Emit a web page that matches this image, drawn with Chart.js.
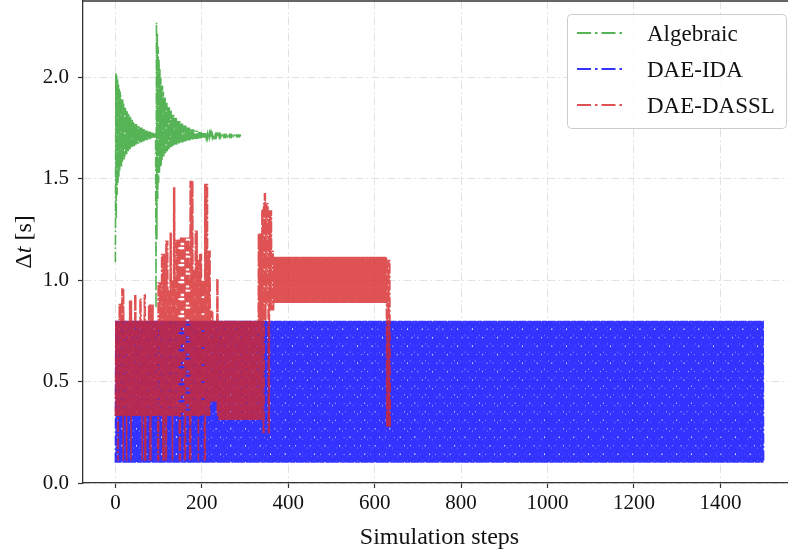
<!DOCTYPE html>
<html>
<head>
<meta charset="utf-8">
<script src="https://cdn.jsdelivr.net/npm/chart.js@4.4.0/dist/chart.umd.min.js"></script>
<style>
  html, body { margin: 0; padding: 0; background: #fff; overflow: hidden; width: 788px; height: 552px; }
  #wrap { width: 800px; height: 552px; }
</style>
</head>
<body>
<div id="wrap"><canvas id="myChart" width="800" height="552"></canvas></div>
<script>
const seriesLabels = ['Algebraic', 'DAE-IDA', 'DAE-DASSL'];
const xTickValues = [0, 200, 400, 600, 800, 1000, 1200, 1400];
const yTickValues = [0.0, 0.5, 1.0, 1.5, 2.0];

// Each series jumps between a low and a high value every step.
// A span starts at the given step and lasts until the next start; the last start is the end step.
const algStart = [0, 2, 4, 6, 8, 10, 12, 15, 18, 21, 24, 28, 32, 36, 40, 45, 50, 56, 62, 68, 75, 82, 88,
  94, 96, 98, 100, 102, 104, 107, 110, 113, 117, 121, 126, 131, 137, 143, 150, 157, 165, 173, 182, 191, 200, 210, 225, 245, 270, 293];
const algLow = [1.09, 1.30, 1.42, 1.48, 1.51, 1.54, 1.56, 1.58, 1.595, 1.61, 1.62, 1.635, 1.645, 1.655, 1.66, 1.668, 1.673, 1.678, 1.684, 1.69, 1.695, 1.70, 1.702,
  0.86, 1.20, 1.40, 1.48, 1.53, 1.56, 1.59, 1.61, 1.625, 1.635, 1.645, 1.655, 1.662, 1.668, 1.674, 1.679, 1.684, 1.688, 1.692, 1.696, 1.699, 1.702, 1.705, 1.707, 1.708, 1.709];
const algHigh = [2.02, 2.01, 1.99, 1.97, 1.95, 1.93, 1.91, 1.89, 1.87, 1.85, 1.835, 1.82, 1.805, 1.79, 1.78, 1.77, 1.76, 1.752, 1.745, 1.738, 1.732, 1.727, 1.724,
  2.27, 2.22, 2.15, 2.09, 2.04, 2.00, 1.96, 1.93, 1.90, 1.875, 1.855, 1.835, 1.815, 1.80, 1.785, 1.772, 1.762, 1.752, 1.744, 1.737, 1.731, 1.725, 1.72, 1.716, 1.714, 1.713];

const idaStart = [0, 1501];
const idaLow   = [0.10];
const idaHigh  = [0.80];

const dasslStart = [0, 5, 8, 14, 17, 20, 25, 28, 32, 35, 38, 45, 49, 57, 61, 64, 67, 71, 76, 80, 83, 88,
  98, 101, 107, 110, 113, 116, 119, 122, 126, 131, 134, 138, 141, 148, 151, 160, 163, 170, 172, 176, 181, 185,
  191, 194, 200, 206, 209, 214, 220, 227, 235, 239, 331, 339, 342, 345, 349, 354, 358, 362, 367, 628, 637];
const dasslLow = [0.33, 0.11, 0.33, 0.33, 0.11, 0.33, 0.11, 0.33, 0.33, 0.11, 0.33, 0.33, 0.33, 0.33, 0.11, 0.33, 0.11, 0.33, 0.33, 0.11, 0.33, 0.33,
  0.11, 0.33, 0.33, 0.11, 0.33, 0.11, 0.33, 0.33, 0.33, 0.11, 0.33, 0.33, 0.33, 0.11, 0.33, 0.11, 0.33, 0.33, 0.11, 0.33, 0.33, 0.33,
  0.11, 0.33, 0.33, 0.11, 0.33, 0.33, 0.40, 0.40, 0.33, 0.31, 0.31, 0.80, 0.245, 0.80, 0.88, 0.245, 0.85, 0.85, 0.887, 0.276];
const dasslHigh = [0.80, 0.80, 0.885, 0.96, 0.96, 0.80, 0.80, 0.80, 0.90, 0.90, 0.80, 0.93, 0.80, 0.91, 0.80, 0.80, 0.93, 0.80, 0.88, 0.88, 0.88, 0.80,
  0.99, 0.99, 1.13, 1.13, 1.13, 1.195, 1.195, 0.95, 1.235, 1.00, 1.458, 1.00, 1.20, 1.20, 1.21, 1.21, 1.21, 1.00, 1.49, 1.49, 1.05, 1.245,
  1.10, 1.13, 1.00, 1.475, 1.475, 1.146, 0.85, 0.80, 1.007, 0.80, 1.23, 1.35, 1.38, 1.43, 1.38, 1.345, 1.345, 1.146, 1.115, 1.10];

function buildSeries(starts, lows, highs) {
  const pts = [];
  for (let k = 0; k < starts.length - 1; k++) {
    for (let s = starts[k]; s < starts[k + 1]; s++) {
      pts.push({ x: s, y: s % 2 === 0 ? lows[k] : highs[k] });
    }
  }
  return pts;
}

const FONT = "'Liberation Serif', 'Times New Roman', serif";
const DASH = [10.2, 2.6, 1.6, 2.6];

const datasets = [
  { label: seriesLabels[0], data: buildSeries(algStart, algLow, algHigh), borderColor: 'rgba(44,160,44,0.8)', order: 3 },
  { label: seriesLabels[1], data: buildSeries(idaStart, idaLow, idaHigh), borderColor: 'rgba(0,0,255,0.8)', order: 2 },
  { label: seriesLabels[2], data: buildSeries(dasslStart, dasslLow, dasslHigh), borderColor: 'rgba(214,39,40,0.8)', order: 1 },
].map((d) => ({ ...d, borderWidth: 1.6, borderDash: DASH, pointRadius: 0, tension: 0, fill: false }));

// frame top, y title with italic t, and a boxed legend
const overlay = {
  id: 'overlay',
  afterDraw(chart) {
    const ctx = chart.ctx;
    const a = chart.chartArea;
    ctx.save();
    ctx.strokeStyle = '#333';
    ctx.lineWidth = 1.3;
    ctx.beginPath();
    ctx.moveTo(a.left, a.top);
    ctx.lineTo(a.right, a.top);
    ctx.stroke();

    // y title
    const parts = [['Δ', 'normal'], ['t', 'italic'], [' [s]', 'normal']];
    ctx.fillStyle = '#111';
    ctx.textBaseline = 'middle';
    let total = 0;
    parts.forEach(([t, st]) => { ctx.font = `${st} 24px ${FONT}`; total += ctx.measureText(t).width; });
    ctx.translate(25, (a.top + a.bottom) / 2);
    ctx.rotate(-Math.PI / 2);
    let x = -total / 2;
    parts.forEach(([t, st]) => {
      ctx.font = `${st} 24px ${FONT}`;
      ctx.fillText(t, x, 0);
      x += ctx.measureText(t).width;
    });
    ctx.restore();

    // legend
    ctx.save();
    const bx = 567, by = 14, bw = 219, bh = 114, r = 4;
    ctx.beginPath();
    ctx.roundRect(bx + 0.5, by + 0.5, bw, bh, r);
    ctx.fillStyle = 'rgba(255,255,255,0.85)';
    ctx.fill();
    ctx.strokeStyle = '#cccccc';
    ctx.lineWidth = 1;
    ctx.stroke();
    ctx.font = `23px ${FONT}`;
    ctx.textBaseline = 'alphabetic';
    chart.data.datasets.forEach((ds, i) => {
      const ly = 33 + i * 36;
      ctx.strokeStyle = ds.borderColor;
      ctx.lineWidth = 2;
      ctx.setLineDash([14, 4, 2.5, 4]);
      ctx.beginPath();
      ctx.moveTo(577, ly);
      ctx.lineTo(625, ly);
      ctx.stroke();
      ctx.setLineDash([]);
      ctx.fillStyle = '#111';
      ctx.fillText(ds.label, 647, ly + 8);
    });
    ctx.restore();
  },
};

const gridCommon = {
  color: '#e2e2e2',
  lineWidth: 1,
  tickColor: '#333',
  tickLength: 5,
  tickWidth: 1.2,
};

new Chart(document.getElementById('myChart').getContext('2d'), {
  type: 'line',
  data: { datasets },
  options: {
    responsive: false,
    animation: false,
    parsing: false,
    normalized: true,
    layout: { padding: { top: 1, right: 4, left: 0, bottom: 0 } },
    plugins: { legend: { display: false }, tooltip: { enabled: false } },
    scales: {
      x: {
        type: 'linear',
        min: -75,
        max: 1575,
        afterBuildTicks: (s) => { s.ticks = xTickValues.map((v) => ({ value: v })); },
        afterFit: (s) => { s.height = 69; s.paddingLeft = 0; s.paddingRight = 0; },
        ticks: { font: { family: FONT, size: 21 }, color: '#111', padding: 3, maxRotation: 0, callback: (v) => String(v) },
        grid: gridCommon,
        border: { color: '#333', width: 1.3, dash: [8, 3, 2, 3] },
        title: { display: true, text: 'Simulation steps', font: { family: FONT, size: 24 }, color: '#111', padding: { top: 2, bottom: 0 } },
      },
      y: {
        min: 0,
        max: 2.376,
        afterBuildTicks: (s) => { s.ticks = yTickValues.map((v) => ({ value: v })); },
        afterFit: (s) => { s.width = 83; s.paddingTop = 0; s.paddingBottom = 0; },
        ticks: { font: { family: FONT, size: 21 }, color: '#111', padding: 9, callback: (v) => v.toFixed(1) },
        grid: gridCommon,
        border: { color: '#333', width: 1.3, dash: [8, 3, 2, 3] },
      },
    },
  },
  plugins: [overlay],
});
</script>
</body>
</html>
